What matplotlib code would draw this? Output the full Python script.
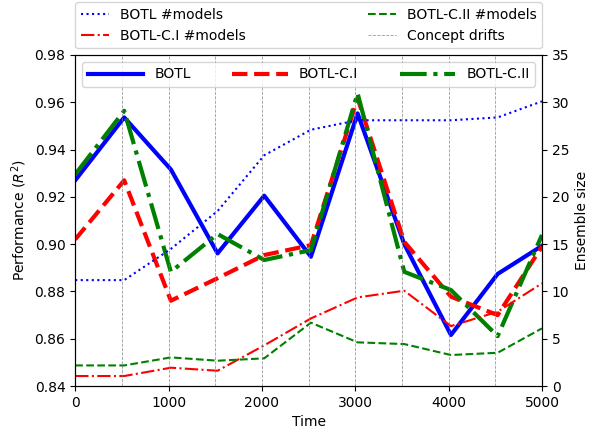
"""
BOTL vs BOTL-C.I vs BOTL-C.II performance and ensemble size over time
"""

import numpy as np
import matplotlib.pyplot as plt

# time steps where results were recorded
time = [0, 525, 1025, 1525, 2025, 2525, 3025, 3525, 4025, 4525, 5000]

# performance (R^2)
botl_r2 = [0.927, 0.9536, 0.9316, 0.8961, 0.9205, 0.8947, 0.9553, 0.900, 0.8616, 0.8874, 0.8993]
botl_c1_r2 = [0.902, 0.927, 0.8761, 0.8856, 0.8954, 0.8996, 0.9617, 0.901, 0.8778, 0.870, 0.899]
botl_c2_r2 = [0.9295, 0.9564, 0.8883, 0.9043, 0.8933, 0.8975, 0.9638, 0.8883, 0.8806, 0.8611, 0.9039]

# ensemble size (#models)
botl_models = [11.2, 11.2, 14.5, 18.5, 24.4, 27.1, 28.1, 28.1, 28.1, 28.4, 30.1]
botl_c1_models = [1.06, 1.06, 1.94, 1.62, 4.3, 7.15, 9.37, 10.08, 6.34, 7.86, 10.86]
botl_c2_models = [2.18, 2.18, 3.03, 2.68, 2.93, 6.7, 4.62, 4.44, 3.28, 3.52, 6.1]

drifts = [500, 1000, 1500, 2000, 2500, 3000, 3500, 4000, 4500]


def main():
    fig, ax = plt.subplots(figsize=(5.92, 4.28), dpi=100)
    fig.subplots_adjust(left=0.127, right=0.9155, top=0.8715, bottom=0.098)
    ax2 = ax.twinx()

    # performance lines on the left axis
    ax.plot(time, botl_r2, "-", color="blue", lw=3, label="BOTL")
    ax.plot(time, botl_c1_r2, "--", color="red", lw=3, label="BOTL-C.I")
    ax.plot(time, botl_c2_r2, "-.", color="green", lw=3, label="BOTL-C.II")

    # ensemble size on the right axis
    l1, = ax2.plot(time, botl_models, ":", color="blue", lw=1.5, label="BOTL #models")
    l2, = ax2.plot(time, botl_c1_models, "-.", color="red", lw=1.5, label="BOTL-C.I #models")
    l3, = ax2.plot(time, botl_c2_models, "--", color="green", lw=1.5, label="BOTL-C.II #models")

    drift_lines = []
    for d in drifts:
        drift_lines.append(ax2.axvline(d, color="gray", ls="--", lw=0.6, alpha=0.8,
                                       label="Concept drifts"))

    ax.set_xlim(0, 5000)
    ax.set_ylim(0.84, 0.98)
    ax.set_yticks(np.arange(0.84, 0.981, 0.02))
    ax2.set_ylim(0, 35)
    ax.set_xlabel("Time")
    ax.set_ylabel("Performance ($R^2$)")
    ax2.set_ylabel("Ensemble size")

    ax2.legend(handles=[l1, l2, l3, drift_lines[0]], ncol=2, mode="expand",
               loc="lower left", bbox_to_anchor=(0, 1.02, 1, 0.2),
               borderaxespad=0)
    leg = ax.legend(ncol=3, mode="expand", loc="upper left",
                    bbox_to_anchor=(0, 0, 1, 1), borderaxespad=0.5,
                    handlelength=4)
    # put the inner legend above the twin axis
    leg.remove()
    ax2.add_artist(leg)

    plt.savefig("out.png")


if __name__ == '__main__':
    main()
